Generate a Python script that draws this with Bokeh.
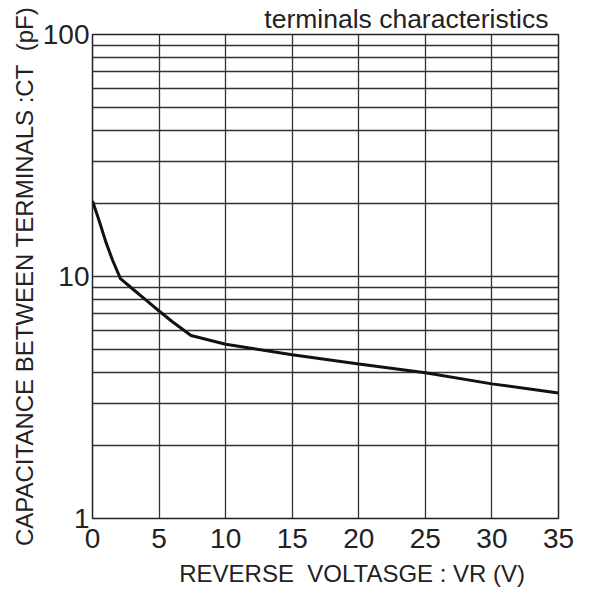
from bokeh.plotting import figure
from bokeh.models import FixedTicker, PrintfTickFormatter, Range1d, Title
from bokeh.embed import file_html
from bokeh.resources import INLINE

# Data
voltage = [0, 0.5, 1, 1.5, 2.1, 3, 4, 5, 6, 7.4, 10, 15, 20, 25, 30, 35]
capacitance = [20.5, 17.0, 13.9, 11.7, 9.8, 8.9, 8.0, 7.2, 6.5, 5.7, 5.25, 4.75, 4.35, 4.0, 3.6, 3.3]

x_ticks = [0, 5, 10, 15, 20, 25, 30, 35]
y_ticks = [1, 10, 100]
y_minor = [2, 3, 4, 5, 6, 7, 8, 9, 20, 30, 40, 50, 60, 70, 80, 90]

title_text = "terminals characteristics"
x_label = "\u00a0" * 8 + "REVERSE\u00a0 VOLTASGE : VR (V)"
y_label = "CAPACITANCE BETWEEN TERMINALS :CT\u00a0 (pF)"

FONT = "Liberation Sans"

p = figure(width=600, height=589, y_axis_type="log",
           x_range=Range1d(0, 35), y_range=Range1d(1, 100),
           output_backend="svg", toolbar_location=None,
           min_border_left=92, min_border_right=42,
           min_border_top=33, min_border_bottom=70)

p.background_fill_color = "white"
p.border_fill_color = "white"
p.outline_line_color = "#222222"
p.outline_line_width = 1.5

p.xaxis.ticker = FixedTicker(ticks=x_ticks)
p.yaxis.ticker = FixedTicker(ticks=y_ticks, minor_ticks=y_minor)
p.yaxis.formatter = PrintfTickFormatter(format="%d")

for ax in (p.xaxis[0], p.yaxis[0]):
    ax.axis_line_color = None
    ax.major_tick_line_color = None
    ax.minor_tick_line_color = None
    ax.major_label_text_font = FONT
    ax.major_label_text_font_size = "28px"
    ax.major_label_text_color = "#222222"
    ax.axis_label_text_font = FONT
    ax.axis_label_text_font_style = "normal"
    ax.axis_label_text_color = "#222222"

p.xaxis.major_label_standoff = 4
p.xaxis.axis_label = x_label
p.xaxis.axis_label_text_font_size = "24px"
p.xaxis.axis_label_standoff = 9

p.yaxis.major_label_standoff = -3
p.yaxis.axis_label = y_label
p.yaxis.axis_label_text_font_size = "24px"
p.yaxis.axis_label_standoff = 2

p.xgrid.grid_line_color = "#333333"
p.xgrid.grid_line_width = 1.3
p.ygrid.grid_line_color = "#333333"
p.ygrid.grid_line_width = 1.3
p.ygrid.minor_grid_line_color = "#333333"
p.ygrid.minor_grid_line_width = 1.3

p.line(voltage, capacitance, line_color="#111111", line_width=3)

p.add_layout(Title(text=title_text, align="right", offset=10, standoff=2,
                   text_font=FONT, text_font_size="26.5px",
                   text_font_style="normal", text_color="#222222"), "above")

open("out.html", "w").write(file_html(p, INLINE))
